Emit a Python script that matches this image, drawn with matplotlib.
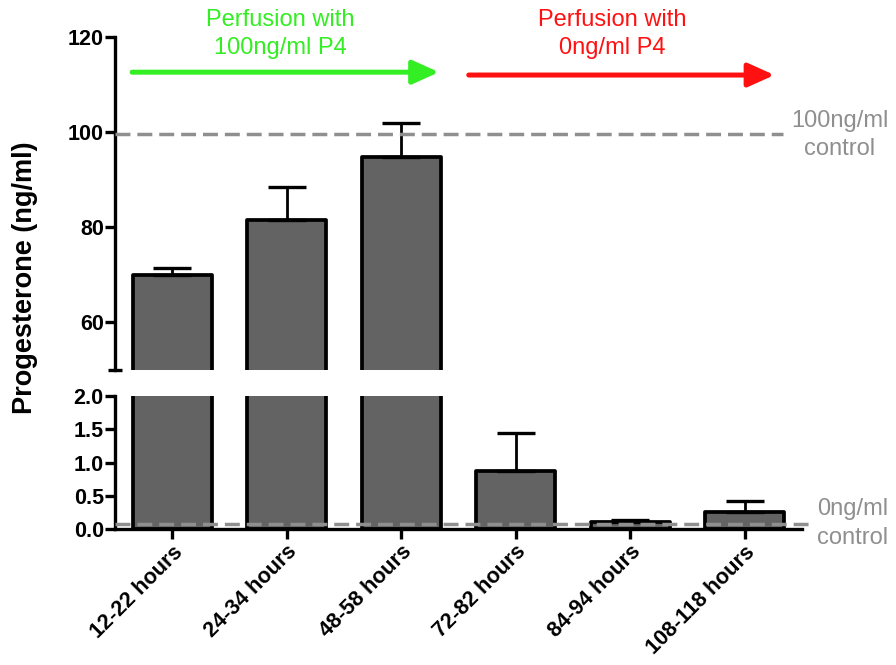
import matplotlib
matplotlib.use('Agg')
import matplotlib.pyplot as plt
import numpy as np

plt.rcParams['font.family'] = ['Liberation Sans', 'DejaVu Sans']

# data
periods = ['12-22 hours', '24-34 hours', '48-58 hours',
           '72-82 hours', '84-94 hours', '108-118 hours']
p4_mean = [69.9, 81.5, 94.7, 0.87, 0.11, 0.25]
p4_sem = [1.5, 6.9, 7.2, 0.58, 0.03, 0.17]
ctrl_high = 99.6
ctrl_low = 0.07
top_ticks = [60, 80, 100, 120]
bot_ticks = [0.0, 0.5, 1.0, 1.5, 2.0]

bar_color = '#626362'
ctrl_color = '#8f8f8f'
green = '#33ee22'
red = '#ff1111'

fig = plt.figure(figsize=(8.96, 6.65), dpi=100)
ax_top = fig.add_axes([0.1283, 0.4436, 0.7667, 0.5008])
ax_bot = fig.add_axes([0.1283, 0.2045, 0.7667, 0.2000])

x = np.arange(len(periods))
for ax in (ax_top, ax_bot):
    ax.bar(x, p4_mean, width=0.69, color=bar_color, edgecolor='black',
           linewidth=2.7, joinstyle='round', zorder=2)
    ax.errorbar(x, p4_mean, yerr=[np.zeros(len(x)), p4_sem], fmt='none',
                ecolor='black', elinewidth=2.0, capsize=14, capthick=2.4,
                zorder=3)
    ax.set_xlim(-0.5, 5.5)
    for s in ('top', 'right'):
        ax.spines[s].set_visible(False)
    ax.spines['left'].set_linewidth(2.4)
    ax.spines['bottom'].set_linewidth(2.4)
    ax.tick_params(axis='y', direction='out', length=7, width=2.4,
                   labelsize=15.5, pad=1)

# top part of the broken axis
ax_top.set_ylim(50, 120)
ax_top.set_yticks(top_ticks)
ax_top.set_yticklabels([str(t) for t in top_ticks], fontweight='bold')
ax_top.set_yticks([50], minor=True)
ax_top.tick_params(axis='y', which='minor', direction='inout', length=10, width=2.4)
ax_top.spines['bottom'].set_visible(False)
ax_top.set_xticks([])
ax_top.axhline(ctrl_high, xmin=0, xmax=0.972, color=ctrl_color, lw=2.5,
               dashes=(4.3, 2.0), zorder=4)

# bottom part
ax_bot.set_ylim(0, 2.0)
ax_bot.set_yticks(bot_ticks)
ax_bot.set_yticklabels([f'{t:.1f}' for t in bot_ticks], fontweight='bold')
ax_bot.set_yticks([2.0], minor=True)
ax_bot.tick_params(axis='y', which='minor', direction='inout', length=10, width=2.4)
ax_bot.set_xticks(x)
ax_bot.set_xticklabels(periods, rotation=45, ha='right', rotation_mode='anchor',
                       fontsize=15.5, fontweight='bold')
ax_bot.tick_params(axis='x', direction='out', length=7, width=2.4, pad=2)
ax_bot.axhline(ctrl_low, xmin=0, xmax=1.019, color=ctrl_color, lw=2.5,
               dashes=(4.3, 2.0), zorder=4, clip_on=False)

# perfusion arrows
arrow_kw = dict(arrowstyle='-|>,head_length=1.6,head_width=0.72',
                lw=3.6, shrinkA=0, shrinkB=0, mutation_scale=10,
                capstyle='round')
ax_top.annotate('', xy=(2.33, 112.6), xytext=(-0.35, 112.6),
                arrowprops=dict(color=green, **arrow_kw), annotation_clip=False)
ax_top.annotate('', xy=(5.26, 112.0), xytext=(2.59, 112.0),
                arrowprops=dict(color=red, **arrow_kw), annotation_clip=False)
fig.text(0.3125, 0.949, 'Perfusion with\n100ng/ml P4', color=green,
         fontsize=17, ha='center', va='center', linespacing=1.35)
fig.text(0.683, 0.949, 'Perfusion with\n0ng/ml P4', color=red,
         fontsize=17, ha='center', va='center', linespacing=1.35)

# control labels
fig.text(0.9375, 0.797, '100ng/ml\ncontrol', color=ctrl_color,
         fontsize=17, ha='center', va='center', linespacing=1.3)
fig.text(0.952, 0.213, '0ng/ml\ncontrol', color=ctrl_color,
         fontsize=17, ha='center', va='center', linespacing=1.4)

fig.text(0.028, 0.583, 'Progesterone (ng/ml)', rotation=90, fontsize=19.5,
         fontweight='bold', ha='center', va='center')

fig.savefig('out.png', dpi=100)
